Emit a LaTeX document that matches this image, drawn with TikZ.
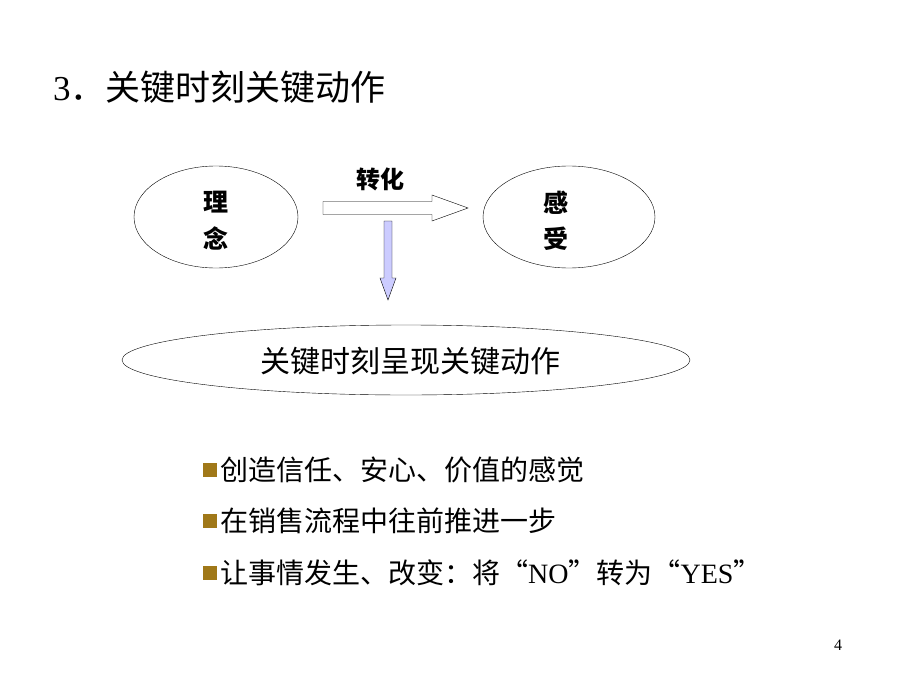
\documentclass[tikz,border=0pt]{standalone}
\usepackage{fontspec}
\setmainfont{Liberation Serif}
\newfontfamily\cjk{Noto Sans CJK SC}
\usetikzlibrary{shapes.geometric}
\definecolor{bulletbrown}{RGB}{160,120,24}
\definecolor{arrowlilac}{RGB}{204,204,255}
\begin{document}
\begin{tikzpicture}[
        x=1pt, y=-1pt,
        every node/.style={inner sep=0pt},
        oval/.style={ellipse, draw=black, thin, inner sep=0pt},
        hollow/.style={draw=black, thin, line join=miter},
        word/.style={font=\cjk\bfseries\fontsize{25}{25}\selectfont},
        item/.style={anchor=west, font=\cjk\fontsize{28}{28}\selectfont},
        sq/.style={fill=bulletbrown, minimum size=14pt}
    ]
    \useasboundingbox (0,0) rectangle (920,690);

    % title
    \node[anchor=west, font=\fontsize{35}{35}\selectfont] (title) at (53,87)
        {3{\cjk．}{\cjk 关键时刻关键动作}};

    % two ovals and the arrows
    \node[oval, minimum width=164pt, minimum height=102pt] (idea) at (216,217) {};
    \node[word] (idea1) at (216,202) {理};
    \node[word] (idea2) at (216,238) {念};
    \node[oval, minimum width=172pt, minimum height=102pt] (feel) at (569,217) {};
    \node[word] (feel1) at (556,203) {感};
    \node[word] (feel2) at (556,239) {受};

    \node[word, font=\cjk\bfseries\fontsize{24}{24}\selectfont] (turn) at (380,179) {转化};

    \coordinate (h0) at (323,208);
    \coordinate (h1) at (468,208);
    \draw[hollow, fill=white] (h0) ++(0,-6.5) -- (432,201.5) -- (432,195) -- (h1)
        -- (432,221) -- (432,214.5) -- (323,214.5) -- cycle;

    \coordinate (v0) at (388,221);
    \coordinate (v1) at (388,300);
    \draw[hollow, fill=arrowlilac] (v0) ++(-4,0) -- (392,221) -- (392,278) -- (396,278)
        -- (v1) -- (380,278) -- (384,278) -- cycle;

    \node[oval, minimum width=568pt, minimum height=70pt] (moment) at (406,360) {};
    \node[font=\cjk\fontsize{30}{30}\selectfont] (momenttxt) at (410,361) {关键时刻呈现关键动作};

    % bullet list
    \foreach \i/\y/\t in {1/470/创造信任、安心、价值的感觉,
                          2/521/在销售流程中往前推进一步,
                          3/573/让事情发生、改变：将“{\fontspec{Liberation Serif}NO}”转为“{\fontspec{Liberation Serif}YES}”} {
        \node[sq] (sq\i) at (210,\y) {};
        \node[item] (item\i) at (220,\y) {\t};
    }

    \node[font=\fontsize{16}{16}\selectfont] (page) at (838,645) {4};
\end{tikzpicture}
\end{document}
